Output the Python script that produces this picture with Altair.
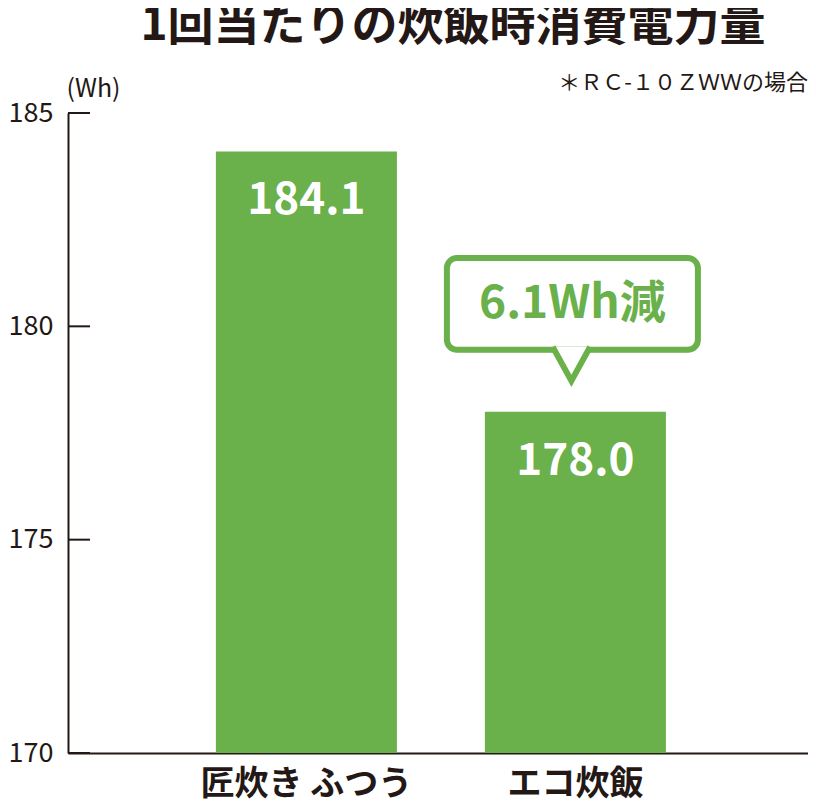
import altair as alt
import pandas as pd

# ---- data ----
categories = ["匠炊き ふつう", "エコ炊飯"]
values = [184.1, 178.0]
y_min, y_max = 170, 185
y_ticks = [170, 175, 180, 185]
title_text = "1回当たりの炊飯時消費電力量"
note_text = "＊ＲＣ-１０ＺＷＷの場合"
unit_text = "(Wh)"
callout_category = "エコ炊飯"
callout_top = 181.6
callout_bottom = 179.45
pointer_y = 179.12

GREEN = "#6ab04b"
FONT = "Noto Sans CJK JP"
INK = "#231815"

bars_df = pd.DataFrame({
    "cat": categories,
    "value": values,
    "base": [y_min] * len(values),
    "label": [f"{v:.1f}" for v in values],
})
callout_df = pd.DataFrame({
    "cat": [callout_category],
    "top": [callout_top],
    "bottom": [callout_bottom],
    "mid": [(callout_top + callout_bottom) / 2],
    "ptr": [pointer_y],
    "text": [f"{values[0] - values[1]:.1f}Wh減"],
})
ticks_df = pd.DataFrame({"tick": y_ticks})
note_df = pd.DataFrame({"t": [note_text]})
title_df = pd.DataFrame({"t": [title_text]})

x_scale = alt.Scale(paddingInner=0.327, paddingOuter=0.539, align=0.51)
y_scale = alt.Scale(domain=[y_min, y_max], zero=False, nice=False)

x_enc = alt.X(
    "cat:N", sort=categories, scale=x_scale,
    axis=alt.Axis(title=None, labelAngle=0, labelFont=FONT, labelFontSize=34,
                  labelFontWeight="bold", labelColor=INK, labelPadding=14,
                  labelLimit=0, ticks=False, domainColor=INK, domainWidth=2,
                  grid=False),
)

bars = alt.Chart(bars_df).mark_bar(color=GREEN).encode(
    x=x_enc,
    y=alt.Y("value:Q", scale=y_scale,
            axis=alt.Axis(values=y_ticks, title=unit_text, titleAngle=0,
                          titleX=-2, titleY=-12, titleAlign="left",
                          titleBaseline="bottom", titleFont=FONT,
                          titleFontSize=25, titleFontWeight="normal",
                          titleColor=INK, labelFont=FONT, labelFontSize=27,
                          labelColor=INK, labelPadding=15, ticks=False,
                          grid=False, domainColor=INK, domainWidth=2)),
    y2="base:Q",
)

labels = alt.Chart(bars_df).mark_text(
    color="white", font=FONT, fontSize=44, fontWeight="bold",
    baseline="middle", dy=50,
).encode(x=alt.X("cat:N", sort=categories), y=alt.Y("value:Q", scale=y_scale), text="label:N")

tick_rules = alt.Chart(ticks_df).mark_rule(color=INK, strokeWidth=2).encode(
    y=alt.Y("tick:Q", scale=y_scale), x=alt.value(0), x2=alt.value(22)
)

box = alt.Chart(callout_df).mark_bar(
    width=251, fill="white", stroke=GREEN, strokeWidth=6, cornerRadius=10,
    xOffset=-3,
).encode(x=alt.X("cat:N", sort=categories), y=alt.Y("top:Q", scale=y_scale), y2="bottom:Q")

pointer = alt.Chart(callout_df).mark_point(
    shape="M-1.1,-1L0,1L1.1,-1", size=1156, filled=True, fill="white",
    stroke=GREEN, strokeWidth=6, strokeJoin="miter", opacity=1,
    fillOpacity=1, strokeOpacity=1, xOffset=-4,
).encode(x=alt.X("cat:N", sort=categories), y=alt.Y("ptr:Q", scale=y_scale))

callout_text = alt.Chart(callout_df).mark_text(
    color=GREEN, font=FONT, fontSize=46, fontWeight="bold",
    baseline="middle", xOffset=-3,
).encode(x=alt.X("cat:N", sort=categories), y=alt.Y("mid:Q", scale=y_scale), text="text:N")

note = alt.Chart(note_df).mark_text(
    align="right", baseline="alphabetic", font=FONT, fontSize=22, color=INK,
).encode(x=alt.value(740), y=alt.value(-23), text="t:N")

title = alt.Chart(title_df).mark_text(
    align="center", baseline="alphabetic", font=FONT, fontSize=46,
    fontWeight="bold", color=INK,
).encode(x=alt.value(385), y=alt.value(-73), text="t:N")

chart = alt.layer(bars, labels, tick_rules, box, pointer, callout_text, note, title).properties(
    width=740, height=640,
    background="white",
    autosize=alt.AutoSizeParams(type="none"),
    padding={"left": 60, "top": 105, "right": 0, "bottom": 51},
).configure_view(stroke=None, strokeWidth=0)

chart.save("out.html", embed_options={"renderer": "svg", "actions": False})
